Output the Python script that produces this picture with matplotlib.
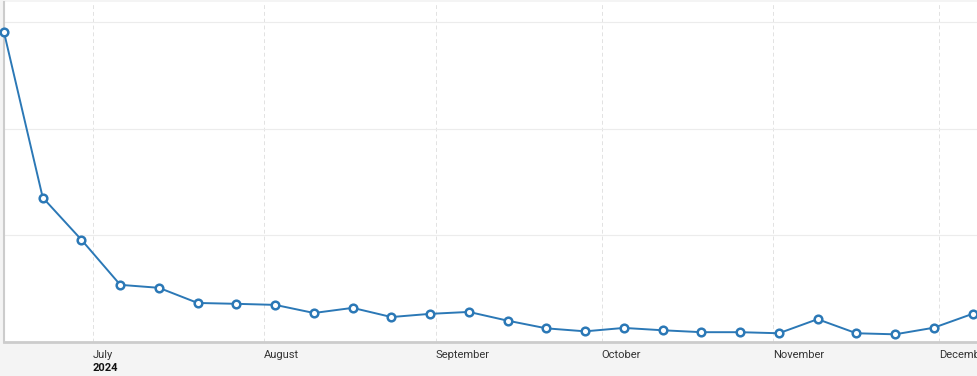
import matplotlib
matplotlib.use("Agg")
import matplotlib.pyplot as plt
import matplotlib.dates as mdates
import matplotlib.transforms as mtransforms
import numpy as np
import datetime as dt

# weekly series, mid June to early December 2024
start = dt.date(2024, 6, 15)
dates = [start + dt.timedelta(weeks=i) for i in range(26)]
values = [145.2, 67.7, 47.9, 26.8, 25.4, 18.3, 17.9, 17.4, 13.6, 16.0,
          11.7, 13.2, 14.1, 10.0, 6.4, 5.0, 6.6, 5.5, 4.6, 4.6,
          4.1, 10.7, 4.1, 3.6, 6.7, 13.2]
month_starts = [dt.date(2024, m, 1) for m in range(7, 13)]
month_labels = ["July", "August", "September", "October", "November", "December"]
year_label = "2024"

plt.rcParams["font.family"] = ["Roboto", "DejaVu Sans"]

fig = plt.figure(figsize=(9.77, 3.76), dpi=100, facecolor="#f4f4f4")
ax = fig.add_axes([4 / 977, 34 / 376, 1 - 4 / 977, 340 / 376])
ax.set_facecolor("white")

ax.plot(dates, values, color="#2b78b6", lw=1.4, marker="o", ms=5.5,
        mfc="white", mec="#2b78b6", mew=1.8, zorder=3, clip_on=False)

ax.set_xlim(mdates.date2num(start), mdates.date2num(dt.date(2024, 12, 7)) + 0.8)
ax.set_ylim(0, 159.4)
ax.set_yticks([0, 50, 100, 150])
ax.set_yticklabels([])
ax.grid(axis="y", color="#ececec", lw=0.8)
ax.set_xticks([mdates.date2num(d) for d in month_starts])
ax.set_xticklabels(month_labels, ha="left", fontsize=8, color="#333333")
ax.tick_params(axis="both", length=0, pad=6)
ax.grid(axis="x", color="#e2e2e2", lw=0.7, ls=(0, (4, 3)))
ax.set_axisbelow(True)

for s in ["top", "right"]:
    ax.spines[s].set_visible(False)
ax.spines["bottom"].set_color("#cccccc")
ax.spines["bottom"].set_linewidth(2)
ax.spines["left"].set_color("#cccccc")
ax.spines["left"].set_linewidth(1.5)

trans = mtransforms.blended_transform_factory(ax.transData, fig.transFigure)
ax.text(mdates.date2num(month_starts[0]), 1 - 368 / 376, year_label, transform=trans,
        ha="left", va="center", fontsize=8, fontweight="bold", color="#111111")

fig.savefig("out.png", dpi=100, facecolor=fig.get_facecolor())
